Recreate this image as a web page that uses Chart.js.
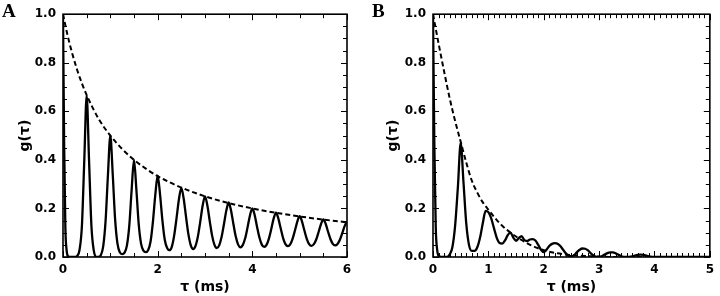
<!DOCTYPE html>
<html>
<head>
<meta charset="utf-8">
<title>g(tau) panels</title>
<style>
  body { margin: 0; background: #fff; }
  #wrap { position: relative; width: 720px; height: 296px; }
  .panel { position: absolute; top: 0; width: 360px; height: 296px; }
  .letter { position: absolute; top: 0px; font: bold 19px "Liberation Serif", serif; color: #000; }
</style>
</head>
<body>
<div id="wrap">
  <div class="panel" style="left:0"><canvas id="chartA" width="360" height="296"></canvas></div>
  <div class="panel" style="left:360px"><canvas id="chartB" width="360" height="296"></canvas></div>
  <div class="letter" style="left:2px">A</div>
  <div class="letter" style="left:372px">B</div>
</div>
<script src="https://cdn.jsdelivr.net/npm/chart.js"></script>
<script>
// panel A: solid curve
const tauA = [0, 0.025, 0.05, 0.075, 0.1, 0.15, 0.2, 0.25, 0.3, 0.35, 0.4, 0.45, 0.5, 0.55, 0.6, 0.65, 0.7, 0.75,
  0.8, 0.85, 0.9, 0.95, 1.0, 1.05, 1.1, 1.15, 1.2, 1.25, 1.3, 1.35, 1.4, 1.45, 1.5, 1.55, 1.6, 1.65, 1.7, 1.75,
  1.8, 1.85, 1.9, 1.95, 2.0, 2.05, 2.1, 2.15, 2.2, 2.25, 2.3, 2.35, 2.4, 2.45, 2.5, 2.55, 2.6, 2.65, 2.7, 2.75,
  2.8, 2.85, 2.9, 2.95, 3.0, 3.05, 3.1, 3.15, 3.2, 3.25, 3.3, 3.35, 3.4, 3.45, 3.5, 3.55, 3.6, 3.65, 3.7, 3.75,
  3.8, 3.85, 3.9, 3.95, 4.0, 4.05, 4.1, 4.15, 4.2, 4.25, 4.3, 4.35, 4.4, 4.45, 4.5, 4.55, 4.6, 4.65, 4.7, 4.75,
  4.8, 4.85, 4.9, 4.95, 5.0, 5.05, 5.1, 5.15, 5.2, 5.25, 5.3, 5.35, 5.4, 5.45, 5.5, 5.55, 5.6, 5.65, 5.7, 5.75,
  5.8, 5.85, 5.9, 5.95, 6.0];
const gA = [1.0, 0.45, 0.12, 0.03, 0.005, 0, 0, 0, 0.005, 0.03, 0.13, 0.40, 0.665, 0.40, 0.13, 0.027, 0.0, 0.0,
  0.008, 0.045, 0.15, 0.34, 0.50, 0.344, 0.158, 0.056, 0.019, 0.012, 0.018, 0.047, 0.128, 0.276, 0.40, 0.278, 0.134, 0.054, 0.026, 0.02,
  0.029, 0.064, 0.146, 0.256, 0.335, 0.258, 0.151, 0.071, 0.037, 0.028, 0.043, 0.09, 0.162, 0.239, 0.285, 0.24, 0.164, 0.093, 0.048, 0.033,
  0.046, 0.085, 0.146, 0.211, 0.25, 0.212, 0.148, 0.088, 0.05, 0.037, 0.048, 0.082, 0.135, 0.191, 0.225, 0.192, 0.136, 0.084, 0.051, 0.04,
  0.05, 0.078, 0.123, 0.171, 0.20, 0.172, 0.124, 0.08, 0.051, 0.042, 0.05, 0.076, 0.115, 0.158, 0.183, 0.158, 0.117, 0.078, 0.053, 0.045,
  0.052, 0.075, 0.109, 0.146, 0.168, 0.146, 0.109, 0.075, 0.053, 0.046, 0.053, 0.072, 0.103, 0.135, 0.155, 0.136, 0.104, 0.074, 0.054, 0.048,
  0.054, 0.071, 0.098, 0.127, 0.145];
// panel A: dashed envelope
const tauEnvA = [0, 0.1, 0.2, 0.3, 0.4, 0.5, 0.75, 1.0, 1.25, 1.5, 1.75, 2.0, 2.5, 3.0, 3.5, 4.0, 4.5, 5.0, 5.5, 6.0];
const envA = [1.0, 0.91, 0.835, 0.77, 0.715, 0.667, 0.57, 0.5, 0.445, 0.4, 0.364, 0.333, 0.286, 0.25, 0.222, 0.2, 0.182, 0.167, 0.154, 0.143];

// panel B: solid curve
const tauB = [0, 0.025, 0.05, 0.075, 0.1, 0.15, 0.2, 0.25, 0.3, 0.35, 0.4, 0.45, 0.5, 0.55, 0.6, 0.65, 0.7, 0.75,
  0.8, 0.85, 0.9, 0.95, 1.0, 1.05, 1.1, 1.15, 1.2, 1.25, 1.3, 1.35, 1.4, 1.45, 1.5, 1.55, 1.6, 1.65, 1.7, 1.75,
  1.8, 1.85, 1.9, 1.95, 2.0, 2.05, 2.1, 2.15, 2.2, 2.25, 2.3, 2.35, 2.4, 2.45, 2.5, 2.55, 2.6, 2.65, 2.7, 2.75,
  2.8, 2.85, 2.9, 2.95, 3.0, 3.05, 3.1, 3.15, 3.2, 3.25, 3.3, 3.35, 3.4, 3.5, 3.6, 3.7, 3.75, 3.8, 3.9, 4.0, 5.0];
const gB = [1.0, 0.45, 0.12, 0.03, 0.005, 0, 0, 0, 0.01, 0.04, 0.13, 0.29, 0.47, 0.31, 0.14, 0.05, 0.025, 0.025,
  0.04, 0.08, 0.14, 0.19, 0.185, 0.16, 0.12, 0.08, 0.058, 0.055, 0.068, 0.09, 0.10, 0.08, 0.067, 0.078, 0.086, 0.07, 0.066, 0.072,
  0.074, 0.068, 0.05, 0.03, 0.02, 0.03, 0.045, 0.054, 0.057, 0.055, 0.045, 0.03, 0.015, 0.005, 0.003, 0.008, 0.02, 0.03, 0.035, 0.034,
  0.027, 0.015, 0.006, 0.001, 0.0, 0.003, 0.01, 0.016, 0.019, 0.019, 0.015, 0.009, 0.003, 0.0, 0.003, 0.009, 0.01, 0.009, 0.003, 0.0, 0.0];
// panel B: dashed envelope
const tauEnvB = [0, 0.1, 0.2, 0.3, 0.4, 0.5, 0.6, 0.7, 0.8, 0.9, 1.0, 1.2, 1.4, 1.6, 1.8, 2.0, 2.25, 2.5, 2.75, 3.0, 3.25, 5.0];
const envB = [1.0, 0.88, 0.765, 0.655, 0.56, 0.475, 0.39, 0.315, 0.265, 0.225, 0.195, 0.14, 0.10, 0.07, 0.045, 0.028, 0.015, 0.008, 0.004, 0.002, 0.0, 0.0];

const yTicks = ['0.0', '0.2', '0.4', '0.6', '0.8', '1.0'];

function pts(xs, ys) {
  return xs.map((x, i) => ({x: x, y: ys[i]}));
}

// frame + inward tick marks on all four sides
const frameTicks = {
  id: 'frameTicks',
  afterDatasetsDraw(chart, args, opts) {
    const ctx = chart.ctx, a = chart.chartArea;
    const x = chart.scales.x, y = chart.scales.y;
    ctx.save();
    ctx.strokeStyle = '#000';
    ctx.lineWidth = 1;
    ctx.beginPath();
    const nx = Math.round((x.max - x.min) / opts.xMinor);
    for (let i = 0; i <= nx; i++) {
      const v = x.min + i * opts.xMinor;
      const px = Math.round(x.getPixelForValue(v)) + 0.5;
      const len = Math.abs(v / opts.xMajor - Math.round(v / opts.xMajor)) < 1e-6 ? 6 : 4;
      ctx.moveTo(px, a.bottom); ctx.lineTo(px, a.bottom - len);
      ctx.moveTo(px, a.top); ctx.lineTo(px, a.top + len);
    }
    const ny = Math.round((y.max - y.min) / opts.yMinor);
    for (let i = 0; i <= ny; i++) {
      const v = y.min + i * opts.yMinor;
      const py = Math.round(y.getPixelForValue(v)) + 0.5;
      const len = Math.abs(v / 0.2 - Math.round(v / 0.2)) < 1e-6 ? 6 : 4;
      ctx.moveTo(a.left, py); ctx.lineTo(a.left + len, py);
      ctx.moveTo(a.right, py); ctx.lineTo(a.right - len, py);
    }
    ctx.stroke();
    ctx.lineWidth = 1.6;
    ctx.strokeRect(a.left, a.top, a.right - a.left, a.bottom - a.top);
    ctx.restore();
  }
};

function makeChart(id, solidX, solidY, envX, envY, xMax, xStep, xMinor, yWidth, rightPad, yTitlePad) {
  new Chart(document.getElementById(id), {
    type: 'line',
    data: {
      datasets: [{
        data: pts(envX, envY),
        borderColor: '#000',
        borderWidth: 2,
        borderDash: [5, 3],
        pointRadius: 0,
        cubicInterpolationMode: 'monotone'
      }, {
        data: pts(solidX, solidY),
        borderColor: '#000',
        borderWidth: 2.3,
        pointRadius: 0,
        cubicInterpolationMode: 'monotone'
      }]
    },
    options: {
      responsive: false,
      animation: false,
      events: [],
      layout: {padding: {left: 0, right: rightPad, top: 5, bottom: 0}},
      plugins: {
        legend: {display: false},
        tooltip: {enabled: false},
        frameTicks: {xMinor: xMinor, xMajor: xStep, yMinor: 0.05}
      },
      scales: {
        x: {
          type: 'linear',
          min: 0, max: xMax,
          grid: {display: false, drawTicks: false},
          border: {display: false},
          ticks: {stepSize: xStep, padding: 6, color: '#000', maxRotation: 0,
                  font: {family: 'DejaVu Sans', weight: 'bold', size: 12}},
          title: {display: true, text: 'τ (ms)', color: '#000', padding: {top: 0, bottom: 0},
                  font: {family: 'DejaVu Sans', weight: 'bold', size: 14}},
          afterFit(s) { s.height = 39; }
        },
        y: {
          min: 0, max: 1,
          grid: {display: false, drawTicks: false},
          border: {display: false},
          ticks: {stepSize: 0.2, padding: 7, color: '#000',
                  callback: (v, i) => yTicks[i],
                  font: {family: 'DejaVu Sans', weight: 'bold', size: 12}},
          title: {display: true, text: 'g(τ)', color: '#000', padding: {top: yTitlePad, bottom: 0},
                  font: {family: 'DejaVu Sans', weight: 'bold', size: 14}},
          afterFit(s) { s.width = yWidth; }
        }
      }
    },
    plugins: [frameTicks]
  });
}

makeChart('chartA', tauA, gA, tauEnvA, envA, 6, 2, 0.5, 63, 13, 17);
makeChart('chartB', tauB, gB, tauEnvB, envB, 5, 1, 0.1, 73, 5, 25);
</script>
</body>
</html>
